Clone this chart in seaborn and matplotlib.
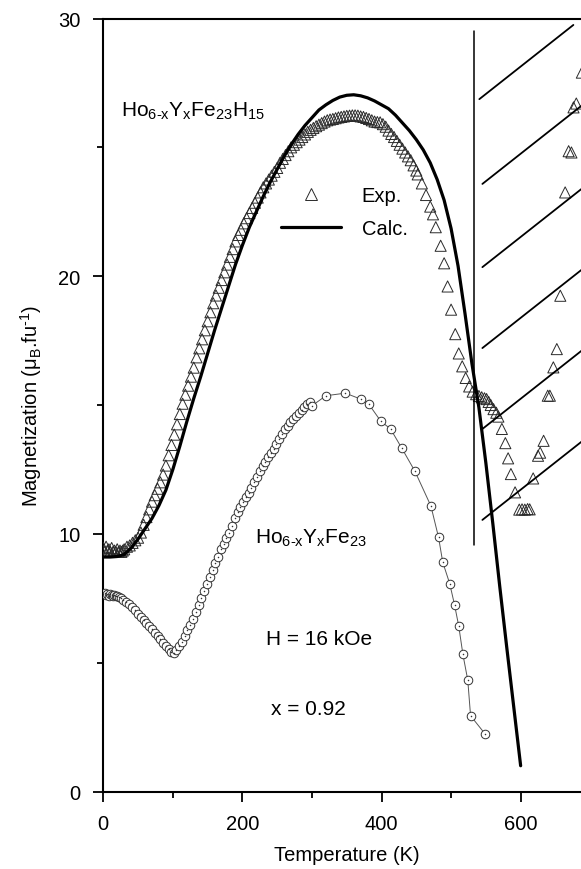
import numpy as np
import pandas as pd
import matplotlib
matplotlib.use("Agg")
import matplotlib.pyplot as plt
from matplotlib.lines import Line2D
import seaborn as sns

# ---------------- data ----------------
# Calculated curve (Ho6-xYxFe23H15)
calc_T = [0, 10, 20, 30, 40, 50, 60, 70, 80, 90, 100, 110, 120, 130, 140, 150, 160, 170, 180,
          190, 200, 210, 220, 230, 240, 250, 260, 270, 280, 290, 300, 310, 320, 330, 340, 350,
          360, 370, 380, 390, 400, 410, 420, 430, 440, 450, 460, 470, 480, 490, 500, 510, 520,
          530, 540, 550, 560, 570, 580, 590, 600]
calc_M = [9.10, 9.10, 9.12, 9.20, 9.45, 9.80, 10.2, 10.6, 11.1, 11.7, 12.5, 13.4, 14.35, 15.25,
          16.1, 17.0, 17.9, 18.75, 19.6, 20.45, 21.2, 21.9, 22.5, 23.1, 23.65, 24.15, 24.65, 25.1,
          25.5, 25.85, 26.15, 26.45, 26.65, 26.82, 26.95, 27.02, 27.04, 27.0, 26.92, 26.8, 26.65,
          26.5, 26.25, 25.95, 25.65, 25.3, 24.9, 24.4, 23.75, 22.95, 21.85, 20.4, 18.55, 16.6,
          14.9, 12.75, 10.4, 7.95, 5.6, 3.3, 1.0]

# Experimental Ho6-xYxFe23H15 (triangles)
exp_T = [0, 2, 4, 6, 8, 10, 12, 14, 16, 18, 20, 22, 24, 26, 28, 30,
         34, 38, 42, 46, 50, 54, 58, 62, 66, 70, 74, 78, 82, 86, 90, 94, 98, 102, 106, 110,
         114, 118, 122, 126, 130, 134, 138, 142, 146, 150, 154, 158, 162, 166, 170, 174, 178,
         182, 186, 190, 194, 198, 202, 206, 210, 214, 218, 222, 226, 230, 234, 238, 242, 246,
         250, 254, 258, 262, 266, 270, 274, 278, 282, 286, 290, 294, 298, 302, 306, 310, 314,
         318, 322, 326, 330, 334, 338, 342, 346, 350, 354, 358, 362, 366, 370, 374, 378, 382,
         386, 390, 394, 398, 402, 406, 410, 414, 418, 422, 426, 430, 434, 438, 442, 446, 450,
         452, 458, 464, 470, 474, 478, 485, 490, 495, 500, 506, 511, 516, 521, 526, 531,
         536, 540, 544, 548, 551, 554, 557, 561, 565, 568, 573, 578, 582, 586, 592, 598,
         602, 606, 610, 613, 618, 625, 628, 633, 639, 642, 647, 652, 657, 664, 669, 673,
         676, 680, 688]
exp_M = [9.45, 9.30, 9.50, 9.35, 9.40, 9.30, 9.45, 9.30, 9.35, 9.30, 9.40, 9.30, 9.35, 9.30, 9.35, 9.40,
         9.50, 9.55, 9.65, 9.75, 9.85, 10.05, 10.35, 10.65, 10.95, 11.25, 11.5, 11.75, 12.0, 12.3,
         12.65, 13.05, 13.45, 13.85, 14.25, 14.65, 15.05, 15.4, 15.75, 16.1, 16.45, 16.85, 17.2,
         17.55, 17.9, 18.25, 18.6, 18.95, 19.25, 19.55, 19.85, 20.15, 20.45, 20.75, 21.05, 21.35,
         21.6, 21.8, 22.05, 22.25, 22.45, 22.65, 22.85, 23.05, 23.25, 23.45, 23.6, 23.75, 23.9, 24.05,
         24.2, 24.4, 24.55, 24.7, 24.85, 25.0, 25.1, 25.2, 25.3, 25.4, 25.5, 25.6, 25.68, 25.75,
         25.82, 25.88, 25.94, 26.0, 26.05, 26.08, 26.1, 26.13, 26.16, 26.18, 26.2, 26.22, 26.23,
         26.24, 26.24, 26.23, 26.2, 26.18, 26.14, 26.1, 26.05, 26.0, 25.98, 25.97, 25.9, 25.8,
         25.65, 25.52, 25.4, 25.25, 25.1, 24.95, 24.8, 24.65, 24.5, 24.3, 24.1,
         23.95, 23.6, 23.15, 22.7, 22.4, 21.9, 21.18, 20.5, 19.6, 18.7, 17.75, 17.0, 16.5, 16.05,
         15.72, 15.52, 15.42, 15.35, 15.3, 15.26, 15.23, 15.12, 15.0, 14.84, 14.7, 14.55, 14.07,
         13.52, 12.93, 12.32, 11.61, 10.94, 10.95, 10.94, 10.96, 10.95, 12.15, 13.03, 13.15,
         13.61, 15.36, 15.36, 16.46, 17.17, 19.24, 23.25, 24.85, 24.8, 26.55, 26.7, 27.9]

# Experimental Ho6-xYxFe23 (circles)
circ_T = [0, 2, 4, 6, 8, 10, 12, 14, 16, 18, 20, 22, 25, 29, 33, 37, 41, 45, 50, 54, 58, 62,
          66, 70, 74, 78, 82, 86, 90, 94, 98, 101, 105, 109, 113, 117, 121, 125, 129, 133, 137,
          141, 145, 149, 153, 157, 161, 165, 169, 173, 177, 181, 185, 189, 193, 197, 201, 205,
          209, 213, 217, 221, 225, 229, 233, 237, 241, 245, 249, 253, 257, 261, 265, 269, 273,
          277, 281, 285, 289, 293, 297, 300, 320, 348, 370, 382, 399, 413, 429, 448, 471, 482,
          488, 498, 505, 511, 517, 524, 528, 549]
circ_M = [7.65, 7.70, 7.62, 7.68, 7.60, 7.65, 7.62, 7.60, 7.63, 7.58, 7.60, 7.55, 7.52, 7.45,
          7.37, 7.28, 7.15, 7.03, 6.89, 6.77, 6.66, 6.53, 6.41, 6.30, 6.17, 6.02, 5.90, 5.78,
          5.64, 5.52, 5.40, 5.38, 5.50, 5.65, 5.80, 6.02, 6.25, 6.47, 6.70, 6.95, 7.22, 7.50,
          7.78, 8.05, 8.32, 8.60, 8.85, 9.12, 9.40, 9.62, 9.82, 10.05, 10.30, 10.60, 10.85,
          11.05, 11.25, 11.42, 11.58, 11.78, 12.0, 12.2, 12.42, 12.63, 12.8, 12.98, 13.15, 13.3,
          13.48, 13.68, 13.88, 14.05, 14.2, 14.33, 14.45, 14.58, 14.68, 14.8, 14.92, 15.02,
          15.12, 14.97, 15.36, 15.46, 15.23, 15.02, 14.37, 14.07, 13.33, 12.43, 11.08, 9.86,
          8.9, 8.07, 7.24, 6.42, 5.32, 4.32, 2.94, 2.23]

# Hatched region (paramagnetic side)
hatch_x = 533.6
hatch_ylim = [9.57, 29.5]
hatch_start_T = [540.6, 545, 545, 545, 545, 545]
hatch_start_M = [26.87, 23.58, 20.35, 17.21, 14.07, 10.54]
hatch_end_T = [675.8, 700, 700, 700, 700, 700]
hatch_slope = 0.0213

x_ticks = [0, 200, 400, 600]
y_ticks = [0, 10, 20, 30]

calc_df = pd.DataFrame({"T": calc_T, "M": calc_M})
exp_df = pd.DataFrame({"T": exp_T, "M": exp_M})
circ_df = pd.DataFrame({"T": circ_T, "M": circ_M})

# ---------------- style ----------------
sns.set_theme(style="ticks")
plt.rcParams["font.family"] = ["Liberation Sans", "DejaVu Sans"]
plt.rcParams["mathtext.fontset"] = "custom"
plt.rcParams["mathtext.rm"] = "Liberation Sans"
plt.rcParams["mathtext.it"] = "Liberation Sans"
plt.rcParams["mathtext.default"] = "regular"
for key in ["text.color", "axes.labelcolor", "xtick.color", "ytick.color", "axes.edgecolor"]:
    plt.rcParams[key] = "black"

fig = plt.figure(figsize=(5.81, 8.70), dpi=100)
ax = fig.add_axes([103.3 / 581, 77.5 / 870, 486.9 / 581, 773 / 870])

# circles with thin connecting line
sns.lineplot(data=circ_df, x="T", y="M", sort=False, estimator=None, ax=ax,
             color="#555555", linewidth=0.7, zorder=2)
sns.scatterplot(data=circ_df, x="T", y="M", ax=ax, marker="o", s=38,
                facecolor="white", edgecolor="#333333", linewidth=0.7, zorder=3)
sns.scatterplot(data=circ_df, x="T", y="M", ax=ax, marker="o", s=1.2,
                color="#333333", linewidth=0, zorder=4)

# experimental triangles
sns.scatterplot(data=exp_df, x="T", y="M", ax=ax, marker="^", s=64,
                facecolor="none", edgecolor="#2a2a2a", linewidth=0.7, zorder=3)

# calculated line
sns.lineplot(data=calc_df, x="T", y="M", sort=False, estimator=None, ax=ax,
             color="black", linewidth=2.3, zorder=5)

# hatched region
ax.plot([hatch_x, hatch_x], hatch_ylim, color="black", lw=1.1, zorder=4)
for t0, m0, t1 in zip(hatch_start_T, hatch_start_M, hatch_end_T):
    ax.plot([t0, t1], [m0, m0 + hatch_slope * (t1 - t0)], color="black", lw=1.3, zorder=4)

# axes styling
ax.set_xlim(0, 700)
ax.set_ylim(0, 30)
ax.set_xticks(x_ticks)
ax.set_xticks([100, 300, 500, 700], minor=True)
ax.set_yticks(y_ticks)
ax.set_yticks([5, 15, 25], minor=True)
ax.tick_params(which="major", direction="out", length=7.5, width=1.3, labelsize=14.5,
               pad=9, color="black", labelcolor="black")
ax.tick_params(which="minor", direction="out", length=4.5, width=1.3, color="black")
for s in ["left", "bottom", "top"]:
    ax.spines[s].set_linewidth(1.5)
    ax.spines[s].set_color("black")
ax.spines["right"].set_visible(False)
ax.set_xlabel("Temperature (K)", fontsize=14.5, labelpad=8, color="black")
ax.set_ylabel("Magnetization (μ$_B$.fu$^{\u2010 1}$)", fontsize=14.5, labelpad=10, color="black")

# annotations
ax.text(25, 26.22, "Ho$_{6\u2010x}$Y$_x$Fe$_{23}$H$_{15}$", fontsize=15, ha="left",
        va="baseline", color="black")
ax.text(218, 9.67, "Ho$_{6\u2010x}$Y$_x$Fe$_{23}$", fontsize=15, ha="left",
        va="baseline", color="black")
ax.text(234, 5.72, "H = 16 kOe", fontsize=15, ha="left", va="baseline", color="black")
ax.text(241, 3.0, "x = 0.92", fontsize=15, ha="left", va="baseline", color="black")

# legend
handles = [Line2D([], [], marker="^", ls="none", mfc="none", mec="#2a2a2a", ms=8, mew=0.7),
           Line2D([], [], color="black", lw=2.3)]
leg = ax.legend(handles, ["Exp.", "Calc."], frameon=False, loc="upper left",
                bbox_to_anchor=(0.365, 0.783), handlelength=3.0, handletextpad=1.0,
                labelspacing=0.68, borderpad=0, borderaxespad=0, fontsize=14.5)
for t in leg.get_texts():
    t.set_color("black")

fig.savefig("out.png", dpi=100)
